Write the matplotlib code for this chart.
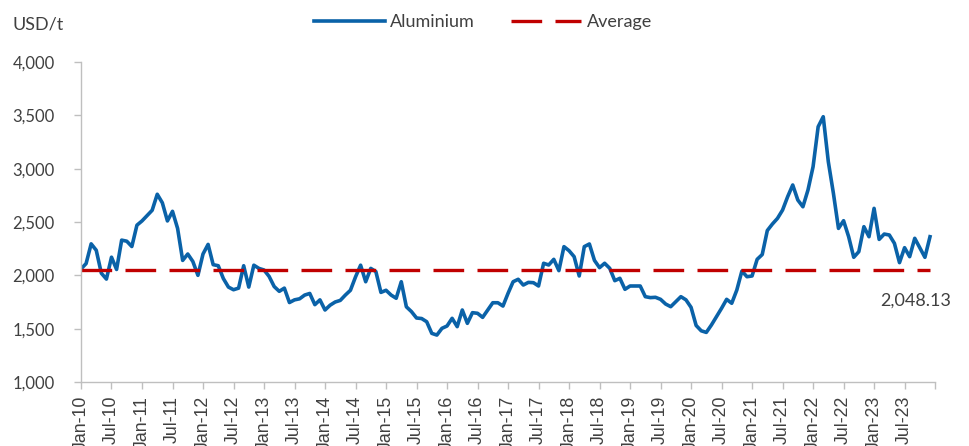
import matplotlib
matplotlib.use('Agg')
from matplotlib import pyplot as plt
from matplotlib.ticker import FuncFormatter, MultipleLocator

# 月度铝价 Jan-10 ... Dec-23 (USD/t)
aluminium = [
    2060, 2110, 2295, 2235, 2020, 1965, 2170, 2055, 2330, 2320, 2270, 2470,
    2510, 2560, 2610, 2760, 2680, 2510, 2600, 2440, 2140, 2200, 2130, 2000,
    2200, 2290, 2100, 2090, 1970, 1890, 1865, 1880, 2090, 1890, 2095, 2065,
    2050, 1990, 1895, 1850, 1880, 1745, 1770, 1780, 1815, 1830, 1725, 1770,
    1675, 1720, 1750, 1765, 1815, 1860, 1985, 2095, 1940, 2065, 2035, 1840,
    1860, 1815, 1785, 1940, 1705, 1660, 1600, 1595, 1565, 1456, 1440, 1503,
    1525, 1597, 1519, 1675, 1550, 1650, 1644, 1606, 1675, 1743, 1743, 1712,
    1831, 1940, 1963, 1909, 1934, 1931, 1900, 2113, 2097, 2150, 2044, 2269,
    2231, 2175, 1994, 2269, 2294, 2140, 2072, 2113, 2066, 1950, 1972, 1869,
    1900, 1900, 1900, 1800, 1791, 1794, 1775, 1731, 1706, 1753, 1800, 1770,
    1700, 1530, 1480, 1465, 1534, 1612, 1691, 1775, 1738, 1862, 2040, 1987,
    1994, 2150, 2195, 2420, 2481, 2534, 2612, 2737, 2847, 2706, 2643, 2800,
    3018, 3393, 3487, 3065, 2769, 2440, 2512, 2362, 2169, 2222, 2456, 2362,
    2628, 2337, 2387, 2378, 2300, 2119, 2259, 2175, 2347, 2259, 2169, 2362,
]
average = 2048.13
years = list(range(10, 24))
tick_labels = [m + '-' + str(y) for y in years for m in ('Jan', 'Jul')]

blue = '#0A62A8'
red = '#C00000'
grey = '#BFBFBF'
text_col = '#404040'

fig = plt.figure(figsize=(9.7, 4.46), dpi=100)
ax = fig.add_axes([0.0835, 0.1435, 0.8805, 0.7175])

x = list(range(len(aluminium)))
ax.plot(x, aluminium, color=blue, lw=2.6, label='Aluminium', solid_joinstyle='round')
ax.plot([0, len(aluminium) - 1], [average, average], color=red, lw=2.4,
        dashes=(9.2, 4.0), label='Average')

ax.set_xlim(0, 168)
ax.set_ylim(1000, 4000)
ax.yaxis.set_major_locator(MultipleLocator(500))
ax.yaxis.set_major_formatter(FuncFormatter(lambda v, p: '{:,.0f}'.format(v)))

ax.set_xticks(range(0, 169, 6))
ax.set_xticklabels(tick_labels + [''], rotation=90, family='Liberation Sans',
                   fontsize=12.8, color=text_col)
for lab in ax.get_yticklabels():
    lab.set_family('Lato')
    lab.set_fontsize(12)
    lab.set_color(text_col)

for side in ('top', 'right'):
    ax.spines[side].set_visible(False)
for side in ('left', 'bottom'):
    ax.spines[side].set_color(grey)
    ax.spines[side].set_linewidth(1)
ax.tick_params(axis='both', direction='out', length=5, color=grey, width=1)
ax.tick_params(axis='y', pad=14)
ax.tick_params(axis='x', pad=5)

fig.text(0.013, 0.944, 'USD/t', family='Lato', fontsize=13, color=text_col,
         va='center', ha='left')
ax.text(164.2, 1765, '{:,.2f}'.format(average), family='Lato', fontsize=13,
        color=text_col, ha='center', va='center')

leg = fig.legend(loc='center', bbox_to_anchor=(0.498, 0.951), ncol=2, frameon=False,
                 prop={'family': 'Lato', 'size': 13}, handlelength=3.9,
                 handletextpad=0.3, columnspacing=2.0)
for t in leg.get_texts():
    t.set_color(text_col)

fig.savefig('out.png', dpi=100)
